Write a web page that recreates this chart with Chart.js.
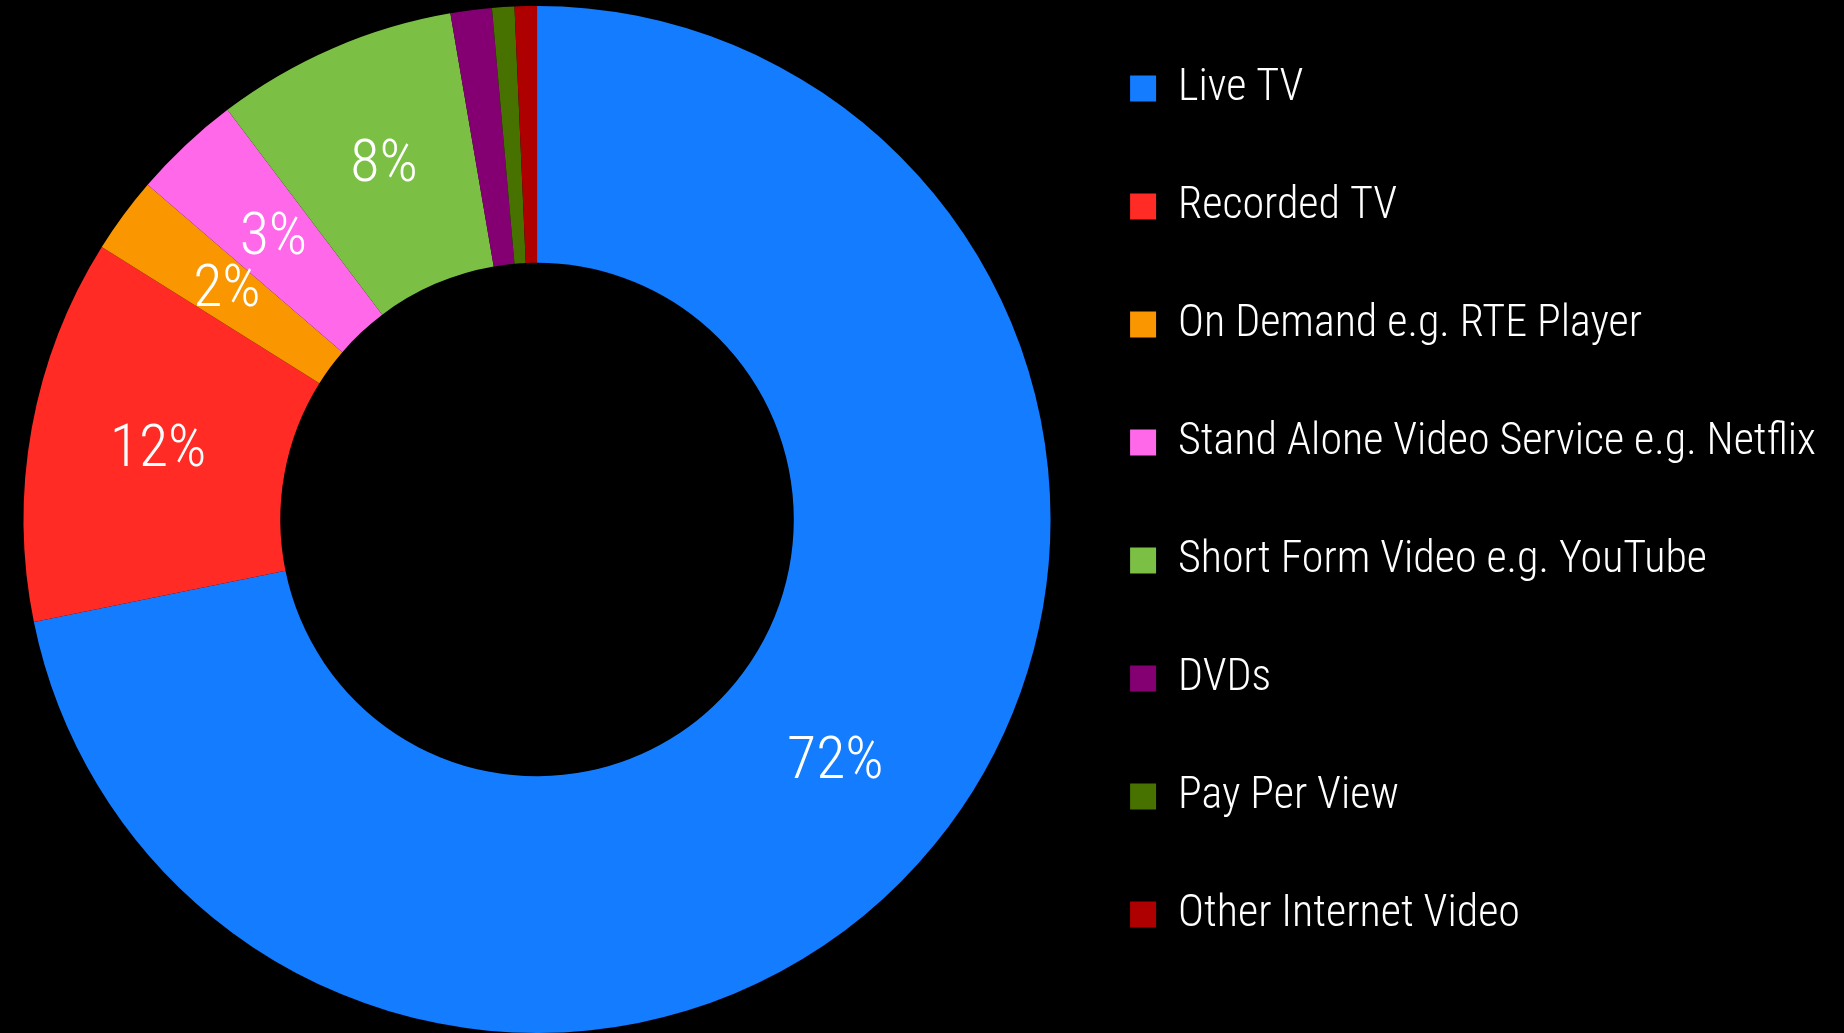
<!DOCTYPE html>
<html>
<head>
<meta charset="utf-8">
<script src="https://cdn.jsdelivr.net/npm/chart.js@4.4.1/dist/chart.umd.min.js"></script>
<style>
  html, body { margin: 0; padding: 0; background: #000; }
  #wrap { width: 1844px; height: 1033px; }
</style>
</head>
<body>
<div id="wrap"><canvas id="viewing"></canvas></div>
<script>
// share of viewing time by source (%)
const categories = [
  "Live TV",
  "Recorded TV",
  "On Demand e.g. RTE Player",
  "Stand Alone Video Service e.g. Netflix",
  "Short Form Video e.g. YouTube",
  "DVDs",
  "Pay Per View",
  "Other Internet Video"
];
const shares = [71.8, 12.1, 2.4, 3.4, 7.6, 1.3, 0.7, 0.7];
const colours = ["#137cff", "#ff2b24", "#fa9600", "#ff68e8", "#7bc044", "#840072", "#477200", "#ae0000"];

const FONT = "'Roboto Condensed', 'DejaVu Sans Condensed', sans-serif";

// writes the rounded percentage in the middle of each slice big enough to hold it
const sliceLabels = {
  id: "sliceLabels",
  afterDatasetsDraw(chart) {
    const ctx = chart.ctx;
    const meta = chart.getDatasetMeta(0);
    ctx.save();
    ctx.fillStyle = "#fff";
    ctx.font = "300 60px " + FONT;
    ctx.textAlign = "center";
    ctx.textBaseline = "middle";
    meta.data.forEach((arc, i) => {
      const v = shares[i];
      if (v < 2) return;
      const p = arc.tooltipPosition();
      ctx.fillText(Math.round(v) + "%", p.x, p.y);
    });
    ctx.restore();
  }
};

// pull the legend column a little up and left of where the layout puts it
const legendNudge = {
  id: "legendNudge",
  afterLayout(chart) {
    const lg = chart.legend;
    lg.top -= 18; lg.bottom -= 18;
    lg.left -= 18; lg.right -= 18;
  }
};

new Chart(document.getElementById("viewing"), {
  type: "doughnut",
  data: {
    labels: categories,
    datasets: [{
      data: shares,
      backgroundColor: colours,
      borderWidth: 0,
      hoverOffset: 0
    }]
  },
  options: {
    responsive: true,
    maintainAspectRatio: false,
    animation: false,
    cutout: "50%",
    layout: { padding: { top: 6, left: -6, right: 0, bottom: 0 } },
    plugins: {
      tooltip: { enabled: false },
      legend: {
        position: "right",
        align: "center",
        maxWidth: 778,
        labels: {
          color: "#fff",
          font: { family: FONT, size: 44, weight: "300" },
          boxWidth: 26,
          boxHeight: 26,
          padding: 74
        }
      }
    }
  },
  plugins: [sliceLabels, legendNudge]
});
</script>
</body>
</html>
